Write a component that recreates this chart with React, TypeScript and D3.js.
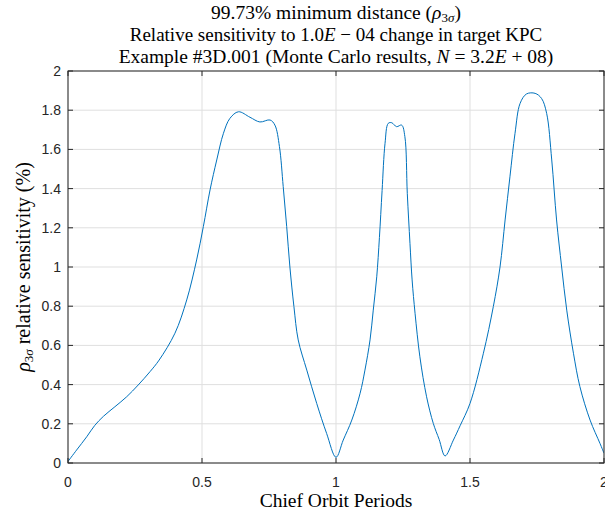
import React from "react";
import * as d3 from "d3";

const xValues = [0.0, 0.032, 0.07, 0.1, 0.132, 0.175, 0.219, 0.262, 0.306, 0.34, 0.399, 0.443, 0.48, 0.505, 0.53, 0.555, 0.58, 0.604, 0.636, 0.679, 0.716, 0.754, 0.772, 0.789, 0.803, 0.816, 0.828, 0.843, 0.859, 0.891, 0.928, 0.965, 1.0, 1.027, 1.059, 1.09, 1.108, 1.127, 1.139, 1.152, 1.162, 1.172, 1.183, 1.195, 1.208, 1.226, 1.245, 1.257, 1.266, 1.276, 1.284, 1.295, 1.313, 1.338, 1.363, 1.385, 1.407, 1.438, 1.463, 1.5, 1.55, 1.587, 1.612, 1.631, 1.649, 1.668, 1.687, 1.711, 1.743, 1.767, 1.786, 1.805, 1.823, 1.842, 1.861, 1.886, 1.91, 1.948, 1.985, 2.0];
const yValues = [0.008, 0.066, 0.134, 0.192, 0.238, 0.287, 0.338, 0.398, 0.466, 0.525, 0.662, 0.832, 1.036, 1.206, 1.393, 1.546, 1.682, 1.758, 1.792, 1.764, 1.74, 1.75, 1.724, 1.614, 1.41, 1.206, 1.0, 0.798, 0.628, 0.474, 0.304, 0.151, 0.029, 0.117, 0.219, 0.356, 0.474, 0.628, 0.78, 0.95, 1.15, 1.39, 1.631, 1.733, 1.736, 1.716, 1.724, 1.665, 1.376, 1.121, 0.934, 0.764, 0.542, 0.338, 0.202, 0.12, 0.036, 0.117, 0.19, 0.304, 0.56, 0.798, 1.0, 1.24, 1.46, 1.682, 1.835, 1.883, 1.886, 1.86, 1.784, 1.546, 1.24, 1.0, 0.78, 0.56, 0.39, 0.219, 0.1, 0.05];
const xTicks = [0, 0.5, 1, 1.5, 2];
const xTickLabels = ["0", "0.5", "1", "1.5", "2"];
const yTicks = [0, 0.2, 0.4, 0.6, 0.8, 1, 1.2, 1.4, 1.6, 1.8, 2];
const yTickLabels = ["0", "0.2", "0.4", "0.6", "0.8", "1", "1.2", "1.4", "1.6", "1.8", "2"];

export default function App() {
  const W = 605, H = 513;
  const left = 68, right = 604, top = 71, bottom = 463;
  const x = d3.scaleLinear().domain([0, 2]).range([left, right]);
  const y = d3.scaleLinear().domain([0, 2]).range([bottom, top]);
  const pts: [number, number][] = xValues.map((v, i) => [v, yValues[i]]);
  const line = d3.line<[number, number]>().x(d => x(d[0])).y(d => y(d[1])).curve(d3.curveCatmullRom.alpha(0.5));
  const axisColor = "#262626";
  const gridColor = "#dfdfdf";
  const serif = "'Liberation Serif', 'DejaVu Serif', serif";
  const sans = "'Liberation Sans', Arial, sans-serif";
  const tl = 5;
  return (
    <svg width={W} height={H} style={{ position: "absolute", left: 0, top: 0, background: "#fff" }} fontFamily={sans}>
      <rect x={0} y={0} width={W} height={H} fill="#fff" />
      {xTicks.map((t, i) => (
        <line key={"gx" + i} x1={x(t)} x2={x(t)} y1={top} y2={bottom} stroke={gridColor} strokeWidth={1} />
      ))}
      {yTicks.map((t, i) => (
        <line key={"gy" + i} x1={left} x2={right} y1={y(t)} y2={y(t)} stroke={gridColor} strokeWidth={1} />
      ))}
      <clipPath id="clip"><rect x={left} y={top} width={right - left} height={bottom - top} /></clipPath>
      <path d={line(pts) || ""} fill="none" stroke="#0072BD" strokeWidth={1} clipPath="url(#clip)" />
      <rect x={left} y={top} width={right - left} height={bottom - top} fill="none" stroke={axisColor} strokeWidth={1} />
      {xTicks.map((t, i) => (
        <g key={"xt" + i}>
          <line x1={x(t)} x2={x(t)} y1={bottom} y2={bottom - tl} stroke={axisColor} />
          <line x1={x(t)} x2={x(t)} y1={top} y2={top + tl} stroke={axisColor} />
          <text x={x(t)} y={487} textAnchor="middle" fontSize={14} fill={axisColor}>{xTickLabels[i]}</text>
        </g>
      ))}
      {yTicks.map((t, i) => (
        <g key={"yt" + i}>
          <line x1={left} x2={left + tl} y1={y(t)} y2={y(t)} stroke={axisColor} />
          <line x1={right} x2={right - tl} y1={y(t)} y2={y(t)} stroke={axisColor} />
          <text x={61} y={y(t) + 5} textAnchor="end" fontSize={14} fill={axisColor}>{yTickLabels[i]}</text>
        </g>
      ))}
      <g fontFamily={serif} fill="#000" fontSize={19} textAnchor="middle">
        <text x={336} y={19} fontSize={19.5}>99.73% minimum distance (<tspan fontStyle="italic">ρ</tspan><tspan fontSize={13} dy={3}>3</tspan><tspan fontSize={13} fontStyle="italic">σ</tspan><tspan dy={-3}>)</tspan></text>
        <text x={336} y={41}>Relative sensitivity to 1.0<tspan fontStyle="italic">E</tspan> − 04 change in target KPC</text>
        <text x={336} y={63} fontSize={19.5}>Example #3D.001 (Monte Carlo results, <tspan fontStyle="italic">N</tspan> = 3.2<tspan fontStyle="italic">E</tspan> + 08)</text>
        <text x={336} y={507} fontSize={19.5}>Chief Orbit Periods</text>
        <text transform={`translate(30,${(top + bottom) / 2}) rotate(-90)`} fontSize={20}><tspan fontStyle="italic">ρ</tspan><tspan fontSize={13} dy={3}>3</tspan><tspan fontSize={13} fontStyle="italic">σ</tspan><tspan dy={-3}> relative sensitivity (%)</tspan></text>
      </g>
    </svg>
  );
}
